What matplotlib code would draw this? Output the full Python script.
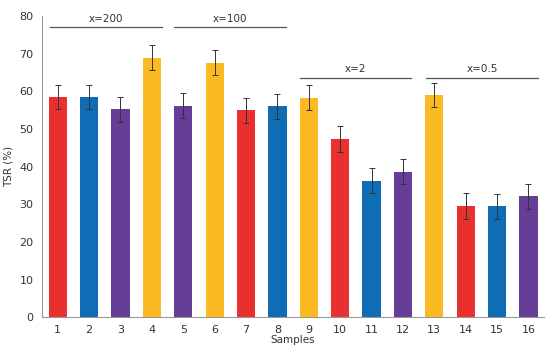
import matplotlib
matplotlib.use("Agg")
import matplotlib.pyplot as plt

samples = list(range(1, 17))
tsr = [58.5, 58.5, 55.2, 69.0, 56.2, 67.6, 55.0, 56.1,
       58.3, 47.3, 36.3, 38.7, 59.0, 29.5, 29.5, 32.1]
err = [3.3, 3.2, 3.3, 3.3, 3.3, 3.3, 3.3, 3.3,
       3.3, 3.4, 3.3, 3.3, 3.2, 3.4, 3.3, 3.4]
colors = ["#E9302F", "#0F6DB6", "#663E97", "#FBBA21",
          "#663E97", "#FBBA21", "#E9302F", "#0F6DB6",
          "#FBBA21", "#E9302F", "#0F6DB6", "#663E97",
          "#FBBA21", "#E9302F", "#0F6DB6", "#663E97"]

# group brackets: label, start, end, height
groups = [("x=200", 0.76, 4.33, 77.0),
          ("x=100", 4.7, 8.26, 77.0),
          ("x=2", 8.71, 12.26, 63.6),
          ("x=0.5", 12.74, 16.3, 63.6)]

fig = plt.figure(figsize=(5.5, 3.52), dpi=100)
ax = fig.add_axes([0.0764, 0.099, 0.913, 0.855])

ax.bar(samples, tsr, width=0.58, color=colors, yerr=err,
       error_kw=dict(ecolor="#333333", elinewidth=0.7, capsize=2, capthick=0.7))

for label, x0, x1, y in groups:
    ax.plot([x0, x1], [y, y], color="#555555", lw=0.9)
    ax.text((x0 + x1) / 2, y + 1.0, label, ha="center", va="bottom",
            fontsize=7.5, color="#333333")

ax.set_xlim(0.5, 16.5)
ax.set_ylim(0, 80)
ax.set_yticks(range(0, 81, 10))
ax.set_xticks(samples)
ax.tick_params(length=0, labelsize=8, colors="#333333", pad=6)
for s in ["top", "right"]:
    ax.spines[s].set_visible(False)
for s in ["left", "bottom"]:
    ax.spines[s].set_color("#999999")
ax.set_ylabel("TSR (%)", fontsize=7.5, color="#333333", labelpad=4)
ax.set_xlabel("Samples", fontsize=7.5, color="#333333", labelpad=0)

fig.savefig("out.png", dpi=100)
